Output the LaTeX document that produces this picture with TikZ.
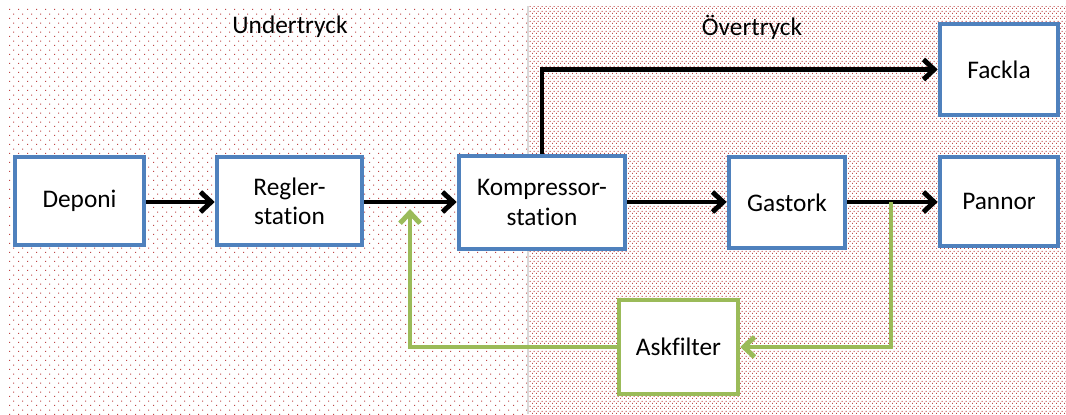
\documentclass[tikz,border=0pt]{standalone}
\usepackage{fontspec}
\setmainfont{Carlito}[Ligatures=NoCommon]
\usetikzlibrary{arrows.meta,patterns.meta}
\definecolor{boxblue}{RGB}{79,129,189}
\definecolor{boxgreen}{RGB}{155,187,89}
\definecolor{dotred}{RGB}{190,70,70}
\tikzdeclarepattern{
  name=sparsedots, type=uncolored,
  bottom left={(0pt,0pt)}, top right={(6.75pt,7pt)}, tile size={(6.75pt,7pt)},
  code={
    \fill (0pt,0pt) rectangle (0.85pt,0.85pt);
    \fill (3.375pt,3.5pt) rectangle (4.225pt,4.35pt);
  }
}
\tikzdeclarepattern{
  name=densedots, type=uncolored,
  bottom left={(0pt,0pt)}, top right={(3pt,3.5pt)}, tile size={(3pt,3.5pt)},
  code={
    \fill (0pt,0pt) rectangle (0.85pt,0.85pt);
    \fill (1.5pt,1.75pt) rectangle (2.35pt,2.6pt);
  }
}
\tikzset{
  box/.style={draw=boxblue, line width=3.4pt, fill=white, align=center,
    font=\fontsize{19pt}{22pt}\selectfont, inner sep=0pt},
  gbox/.style={box, draw=boxgreen},
  flow/.style={line width=3.7pt, -{Straight Barb[length=8pt,width=15pt]}},
  gflow/.style={flow, draw=boxgreen},
  region/.style={font=\fontsize{19pt}{22pt}\selectfont}
}
\begin{document}
\begin{tikzpicture}[x=0.75pt,y=-0.75pt]
\useasboundingbox (0,0) rectangle (1066,414);
\fill[white] (0,0) rectangle (1066,414);
\fill[pattern=sparsedots, pattern color=dotred] (6,7) rectangle (528,414);
\fill[pattern=densedots, pattern color=dotred] (528,6) rectangle (1066,414);
\draw[black!15, line width=0.8pt] (528,6) -- (528,414);

\node[region] (under) at (290,27) {Undertryck};
\node[region] (over) at (752,27) {Övertryck};

\node[box, minimum width={129*0.75pt}, minimum height={88*0.75pt}] (deponi) at (79.5,201) {Deponi};
\node[box, minimum width={145*0.75pt}, minimum height={88*0.75pt}] (regler) at (289.5,201) {Regler-\\station};
\node[box, minimum width={166*0.75pt}, minimum height={93*0.75pt}] (komp) at (542,202.5) {Kompressor-\\station};
\node[box, minimum width={116*0.75pt}, minimum height={91*0.75pt}] (gastork) at (787,202.5) {Gastork};
\node[box, minimum width={118*0.75pt}, minimum height={89*0.75pt}] (pannor) at (999,201.5) {Pannor};
\node[box, minimum width={118*0.75pt}, minimum height={91*0.75pt}] (fackla) at (999,69.5) {Fackla};
\node[gbox, minimum width={119*0.75pt}, minimum height={94*0.75pt}] (askfilter) at (678.5,347) {Askfilter};

\coordinate (j1) at (891,202);
\coordinate (j2) at (410,209);

\draw[flow] (deponi.east |- 0,202) -- (regler.west |- 0,202);
\draw[flow] (regler.east |- 0,202) -- (komp.west |- 0,202);
\draw[flow] (komp.east |- 0,202) -- (gastork.west |- 0,202);
\draw[flow] (gastork.east |- 0,202) -- (pannor.west |- 0,202);
\draw[flow] (komp.north) |- (fackla.west);
\draw[gflow] (j1) |- (askfilter.east);
\draw[gflow] (askfilter.west) -| (j2);
\end{tikzpicture}
\end{document}
